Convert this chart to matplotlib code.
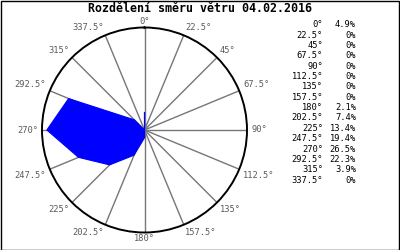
import numpy as np
import matplotlib
matplotlib.use("Agg")
import matplotlib.pyplot as plt
from matplotlib.patches import Rectangle

title = "Rozdělení směru větru 04.02.2016"
directions = [0, 22.5, 45, 67.5, 90, 112.5, 135, 157.5, 180, 202.5, 225, 247.5, 270, 292.5, 315, 337.5]
dir_labels = ["0°", "22.5°", "45°", "67.5°", "90°", "112.5°", "135°", "157.5°",
              "180°", "202.5°", "225°", "247.5°", "270°", "292.5°", "315°", "337.5°"]
percent = [4.9, 0, 0, 0, 0, 0, 0, 0, 2.1, 7.4, 13.4, 19.4, 26.5, 22.3, 3.9, 0]
pct_labels = ["4.9%", "0%", "0%", "0%", "0%", "0%", "0%", "0%",
              "2.1%", "7.4%", "13.4%", "19.4%", "26.5%", "22.3%", "3.9%", "0%"]

W, H = 400, 250
fig = plt.figure(figsize=(W / 100, H / 100), dpi=100)
mono = "DejaVu Sans Mono"

cx, cy, R = 144.5, 130, 102.5
ax = fig.add_axes([(cx - R) / W, (H - cy - R) / H, 2 * R / W, 2 * R / H], projection="polar")
ax.set_theta_zero_location("N")
ax.set_theta_direction(-1)
rmax = max(percent) * 1.05
ax.set_ylim(0, rmax)
ax.grid(False)
ax.set_xticks([])
ax.set_yticks([])
ax.spines["polar"].set_color("black")
ax.spines["polar"].set_linewidth(1.4)
ax.patch.set_alpha(0)

th = np.deg2rad(directions)
for t in th:
    ax.plot([t, t], [0, rmax], color="#767676", lw=1.0, zorder=1)

tt = np.append(th, th[0])
rr = np.append(percent, percent[0])
ax.fill(tt, rr, facecolor="#0000ff", edgecolor="#0000ff", lw=0.8, zorder=3)

for d, lab in zip(directions, dir_labels):
    if d in (0, 180):
        ha = "center"
    elif d < 180:
        ha = "left"
    else:
        ha = "right"
    if d in (90, 270):
        va = "center"
    elif 90 < d < 270:
        va = "top"
    else:
        va = "bottom"
    rpos = rmax * (1.015 if d in (0, 180) else 1.04)
    ax.text(np.deg2rad(d), rpos, lab, ha=ha, va=va, fontsize=6.3,
            family=mono, color="#5a5a5a", clip_on=False)

fig.text(0.5, 1 - 9 / H, title, ha="center", va="center", fontsize=8.4,
         family=mono, fontweight="bold", color="black")

y0, dy = 24.8, 10.35
for i, (dl, pl) in enumerate(zip(dir_labels, pct_labels)):
    y = 1 - (y0 + i * dy) / H
    fig.text(323 / W, y, dl, ha="right", va="center", fontsize=6.3, family=mono, color="black")
    fig.text(356 / W, y, pl, ha="right", va="center", fontsize=6.3, family=mono, color="black")

fig.patches.append(Rectangle((0.5 / W, 0.5 / H), 1 - 1.5 / W, 1 - 1.5 / H, transform=fig.transFigure,
                             fill=False, edgecolor="black", lw=1.0))

fig.savefig("out.png", dpi=100, facecolor="white")
